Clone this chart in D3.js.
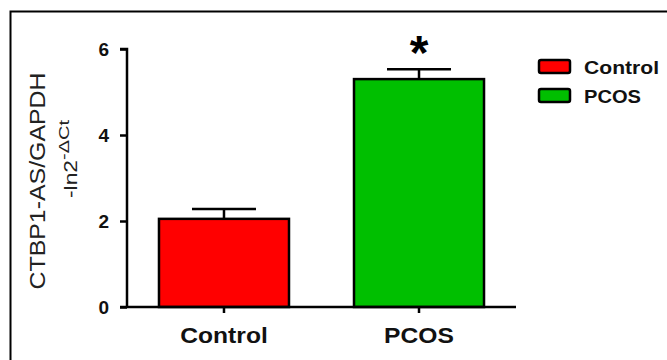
<!DOCTYPE html>
<html>
<head>
<meta charset="utf-8">
<script src="https://cdn.jsdelivr.net/npm/d3@7"></script>
<style>
  body { margin: 0; background: #fff; }
  svg { display: block; font-family: Arial, "Liberation Sans", sans-serif; }
</style>
</head>
<body>
<svg id="chart" width="667" height="360"></svg>
<script>
var groups = ["Control", "PCOS"];
var means = [2.05, 5.30];
var errors = [0.23, 0.23];
var colors = ["#ff0000", "#00bf00"];
var yTicks = [0, 2, 4, 6];
var stars = ["", "*"];

var svg = d3.select("#chart");

// outer frame (runs past right/bottom edges)
svg.append("rect")
  .attr("x", 10.5).attr("y", 11.5)
  .attr("width", 700).attr("height", 400)
  .attr("fill", "none")
  .attr("stroke", "#000")
  .attr("stroke-width", 2);

var x = d3.scaleBand()
  .domain(groups)
  .range([127, 516])
  .paddingInner(1 / 3)
  .paddingOuter(0.164);

var y = d3.scaleLinear()
  .domain([0, 6])
  .range([307, 49]);

var data = groups.map(function(g, i) {
  return {name: g, value: means[i], err: errors[i], color: colors[i], star: stars[i]};
});

// bars
svg.append("g")
  .selectAll("rect")
  .data(data)
  .join("rect")
    .attr("x", d => x(d.name))
    .attr("y", d => y(d.value))
    .attr("width", x.bandwidth())
    .attr("height", d => y(0) - y(d.value))
    .attr("fill", d => d.color)
    .attr("stroke", "#000")
    .attr("stroke-width", 2.5);

// error bars
var eb = svg.append("g")
  .selectAll("g")
  .data(data)
  .join("g")
    .attr("stroke", "#000")
    .attr("stroke-width", 2.5);

eb.append("line")
  .attr("x1", d => x(d.name) + x.bandwidth() / 2)
  .attr("x2", d => x(d.name) + x.bandwidth() / 2)
  .attr("y1", d => y(d.value))
  .attr("y2", d => y(d.value + d.err));

eb.append("line")
  .attr("x1", d => x(d.name) + x.bandwidth() / 2 - 32)
  .attr("x2", d => x(d.name) + x.bandwidth() / 2 + 32)
  .attr("y1", d => y(d.value + d.err))
  .attr("y2", d => y(d.value + d.err));

// significance star
svg.append("g")
  .selectAll("text")
  .data(data)
  .join("text")
    .attr("x", d => x(d.name) + x.bandwidth() / 2)
    .attr("y", d => y(d.value + d.err) - 10)
    .attr("text-anchor", "middle")
    .style("font-size", "48px")
    .style("font-weight", "bold")
    .attr("dy", "0.2em")
    .text(d => d.star);

// y axis
var yAxis = svg.append("g")
  .attr("transform", "translate(127,0)")
  .attr("font-size", 19)
  .call(d3.axisLeft(y).tickValues(yTicks).tickSize(7).tickPadding(11).tickFormat(d3.format("d")));
yAxis.attr("font-size", 19).attr("font-family", null);
yAxis.select(".domain").attr("stroke-width", 2.5).attr("d", "M-7," + y(6) + "H0V" + y(0));
yAxis.selectAll(".tick line").attr("stroke-width", 2.5);
yAxis.selectAll(".tick text")
  .style("font-size", "19px")
  .style("font-weight", "bold")
  .attr("fill", "#111");

// x axis
var xAxis = svg.append("g")
  .attr("transform", "translate(0,307)")
  .call(d3.axisBottom(x).tickSize(6).tickPadding(14));
xAxis.attr("font-family", null);
xAxis.select(".domain").attr("stroke-width", 2.5).attr("d", "M120,0H516");
xAxis.selectAll(".tick line").attr("stroke-width", 2.5);
xAxis.selectAll(".tick text")
  .style("font-size", "22px")
  .style("font-weight", "bold")
  .attr("fill", "#111")
  .attr("transform", "scale(1.12,1)");

// y label
svg.append("text")
  .attr("transform", "translate(45,181) rotate(-90)")
  .attr("text-anchor", "middle")
  .style("font-size", "22px")
  .attr("fill", "#222")
  .attr("textLength", 217)
  .attr("lengthAdjust", "spacingAndGlyphs")
  .text("CTBP1-AS/GAPDH");

var yl2 = svg.append("text")
  .attr("transform", "translate(77,198) rotate(-90)")
  .style("font-size", "19px")
  .attr("fill", "#222");
yl2.append("tspan")
  .attr("textLength", 38)
  .attr("lengthAdjust", "spacingAndGlyphs")
  .text("-ln2");
yl2.append("tspan")
  .attr("dy", "-0.55em")
  .style("font-size", "14px")
  .attr("textLength", 40)
  .attr("lengthAdjust", "spacingAndGlyphs")
  .text("-\u0394Ct");

// legend
var lg = svg.append("g")
  .selectAll("g")
  .data(data)
  .join("g")
    .attr("transform", (d, i) => "translate(539," + (60 + i * 29) + ")");

lg.append("rect")
  .attr("width", 31).attr("height", 13)
  .attr("rx", 2)
  .attr("fill", d => d.color)
  .attr("stroke", "#000")
  .attr("stroke-width", 2.5);

lg.append("text")
  .attr("x", 45)
  .attr("y", 14)
  .style("font-size", "18px")
  .style("font-weight", "bold")
  .attr("fill", "#111")
  .attr("textLength", d => d.name === "Control" ? 75 : 57)
  .attr("lengthAdjust", "spacingAndGlyphs")
  .text(d => d.name);
</script>
</body>
</html>
